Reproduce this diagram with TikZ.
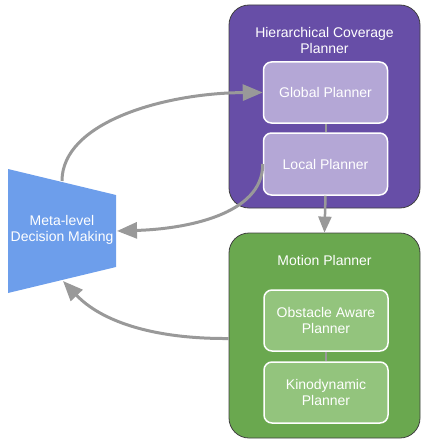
\documentclass[tikz,border=0pt]{standalone}
\usepackage{fontspec}
\setmainfont{Liberation Sans}
\usepackage{tikz}
\usetikzlibrary{arrows.meta,positioning,calc}

\definecolor{hcpfill}{HTML}{674EA7}
\definecolor{hcpinner}{HTML}{B4A7D6}
\definecolor{mpfill}{HTML}{6AA84F}
\definecolor{mpinner}{HTML}{93C47D}
\definecolor{metablue}{HTML}{6D9EEB}
\definecolor{flowgray}{HTML}{999999}

\begin{document}
\begin{tikzpicture}[x=1pt, y=-1pt,
    font=\fontsize{14}{16}\selectfont,
    outerbox/.style={draw=black!75, line width=0.8pt, rounded corners=20pt, minimum width=191pt},
    innerbox/.style={draw=white, line width=1.5pt, rounded corners=8pt, minimum width=124pt,
        minimum height=61pt, text=white, align=center},
    boxtitle/.style={text=white, align=center},
    flow/.style={draw=flowgray, line width=3pt, -{Triangle[length=20pt,width=16pt]}},
    link/.style={draw=flowgray, line width=2pt}]
    \useasboundingbox (0,0) rectangle (421,441);

    % Hierarchical coverage planner
    \node[outerbox, fill=hcpfill, minimum height=203pt] (hcp) at (324.5,106.5) {};
    \node[boxtitle] (hcptitle) at (324.5,40) {Hierarchical Coverage\\Planner};
    \node[innerbox, fill=hcpinner] (global) at (325.5,92.5) {Global Planner};
    \node[innerbox, fill=hcpinner, minimum height=62pt] (local) at (325.5,164) {Local Planner};
    \draw[link] (global) -- (local);

    % Motion planner
    \node[outerbox, fill=mpfill, minimum height=205pt] (mp) at (324.5,335.5) {};
    \node[boxtitle] (mptitle) at (324.5,260) {Motion Planner};
    \node[innerbox, fill=mpinner] (obst) at (326,320.5) {Obstacle Aware\\Planner};
    \node[innerbox, fill=mpinner] (kino) at (326,392.5) {Kinodynamic\\Planner};
    \draw[link] (obst) -- (kino);

    % Meta-level decision making
    \fill[metablue] (8,169) -- (116,195) -- (116,267) -- (8,293) -- cycle;
    \node[boxtitle] (meta) at (62,230) {Meta-level\\Decision Making};
    \coordinate (metatop) at (62,181);
    \coordinate (metaright) at (117,231);
    \coordinate (metabottom) at (63,281);

    % Arrows
    \draw[flow] (metatop) .. controls (62,122) and (165,93) .. (global.west);
    \draw[flow] (local.west) .. controls (263,215) and (185,229) .. (metaright);
    \draw[flow] ([yshift=-3pt]mp.west) .. controls (150,339) and (100,320) .. (metabottom);
    \draw[flow, line width=2.5pt, -{Triangle[length=16pt,width=13pt]}] (local.south) -- (mp.north);
\end{tikzpicture}
\end{document}
